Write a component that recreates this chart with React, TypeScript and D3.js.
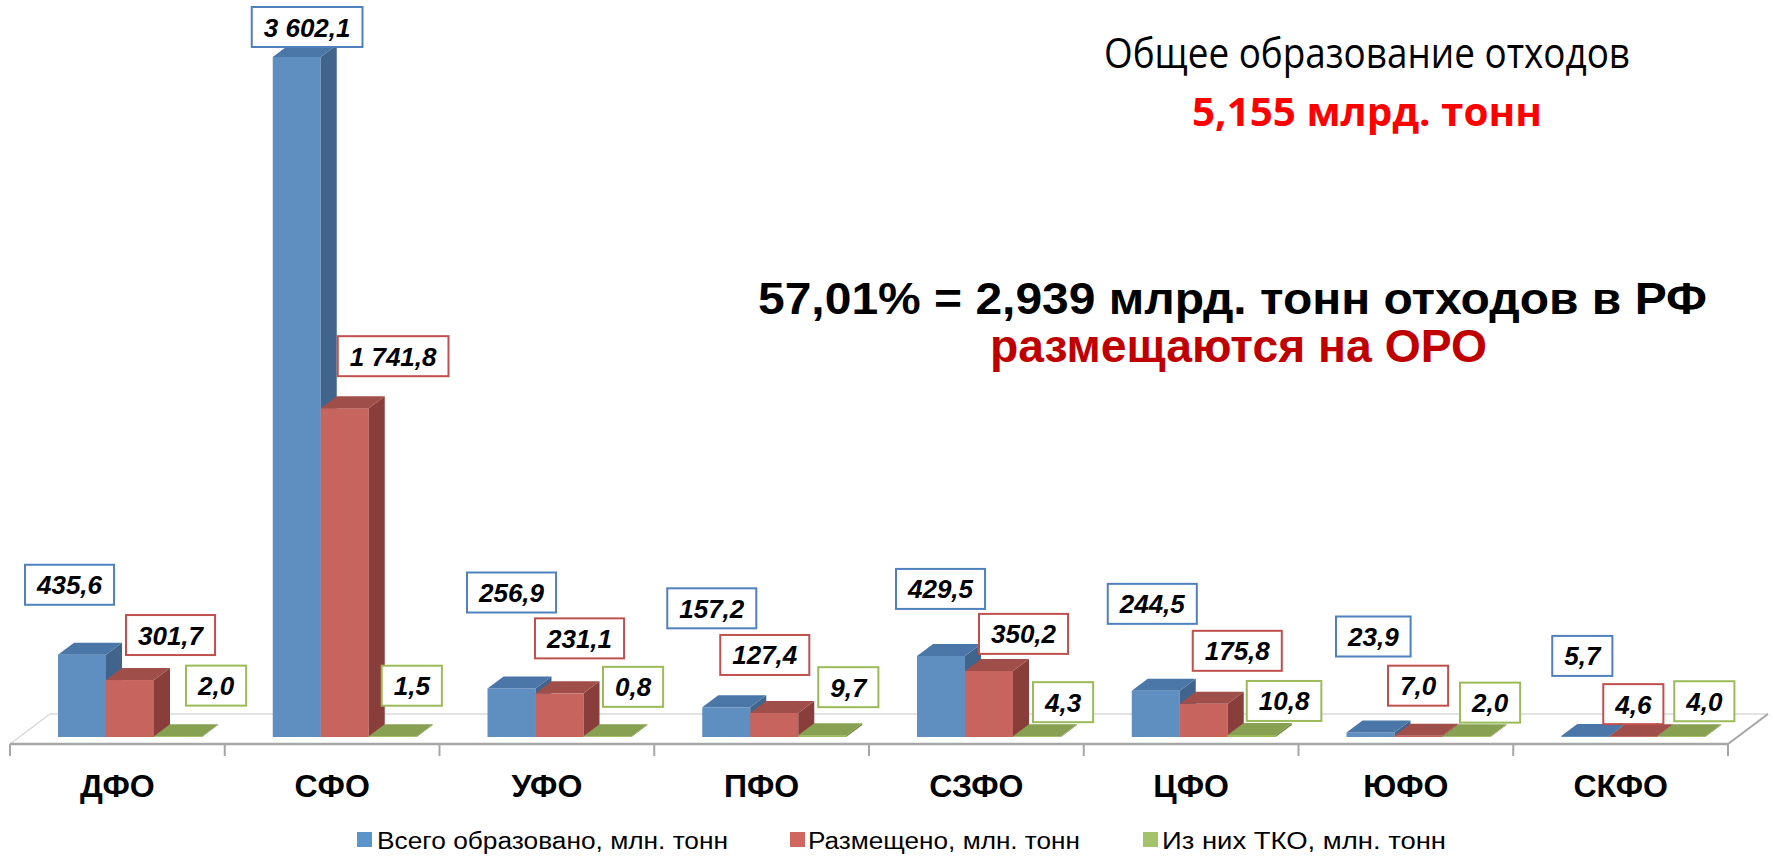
import React, { useEffect } from "react";
import * as d3 from "d3";

// ---------- data ----------
const categories = ["ДФО", "СФО", "УФО", "ПФО", "СЗФО", "ЦФО", "ЮФО", "СКФО"];
const totalGenerated = [435.6, 3602.1, 256.9, 157.2, 429.5, 244.5, 23.9, 5.7];
const placedOnSites = [301.7, 1741.8, 231.1, 127.4, 350.2, 175.8, 7.0, 4.6];
const municipalWaste = [2.0, 1.5, 0.8, 9.7, 4.3, 10.8, 2.0, 4.0];
const seriesNames = [
  "Всего образовано, млн. тонн",
  "Размещено, млн. тонн",
  "Из них ТКО, млн. тонн",
];

// label placement (offsets: x from category start, y from bar top to box bottom)
const blueLabelDx = [15, 27, 27.5, 13, 27, 24, 37.5, 39];
const blueLabelDy = [-50, -10, -76, -79, -47, -67, -76, -60];
const redLabelDx = [116, 113, 95.5, 66, 110, 109, 89.5, 90];
const redLabelDy = [-25, -32, -35, -38, -17, -33, -30, -12];
const greenLabelDx = [176, 157, 163.5, 164, 164, 163, 161.5, 161];
const greenLabelDy = [-31, -31, -30, -28, -14, -14, -14, -15];

const W = 1773;
const H = 856;
const FONT = "'Liberation Sans', Arial, sans-serif";
const TITLE_FONT = "'Open Sans', 'Noto Sans', sans-serif";

const seriesStyle = [
  { front: "#5F8EC0", side: "#41648C", top: "#4A76A8", border: "#4F81BD", legend: "#5B93CB" },
  { front: "#C8645E", side: "#8A3E3C", top: "#A04E4A", border: "#C0504D", legend: "#CF6660" },
  { front: "#9BBB59", side: "#6E8A3A", top: "#87A052", border: "#9BBB59", legend: "#A4C26A" },
];

const ruLocale = d3.formatLocale({
  decimal: ",",
  thousands: " ",
  grouping: [3],
  currency: ["", ""],
});
const fmt = ruLocale.format(",.1f");

const LABEL_FONT = 26;
function labelWidth(s: string) {
  let w = 0;
  for (const ch of s) {
    if (ch === "," || ch === " " || ch === ".") w += 0.278;
    else w += 0.556;
  }
  return w * LABEL_FONT + 24;
}

export default function App() {
  useEffect(() => {
    document.body.style.margin = "0";
    document.body.style.overflow = "hidden";
  }, []);

  const x = d3.scaleBand<string>().domain(categories).range([10, 1728]).padding(0);
  const xs = d3.scaleBand<number>().domain([0, 1, 2]).range([48, 192]).padding(0);
  const y = d3.scaleLinear().domain([0, 3602.1]).range([737, 57]);
  const barW = xs.bandwidth();
  const ddx = 16;
  const ddy = -12;
  const base = y(0);

  const series = [totalGenerated, placedOnSites, municipalWaste];
  const labelDx = [blueLabelDx, redLabelDx, greenLabelDx];
  const labelDy = [blueLabelDy, redLabelDy, greenLabelDy];

  // floor
  const fx0 = x.range()[0];
  const fx1 = x.range()[1];
  const fy = 744;
  const fdx = 40;
  const fdy = -30;

  const bars: React.ReactNode[] = [];
  const labels: React.ReactNode[] = [];
  categories.forEach((c, ci) => {
    series.forEach((vals, si) => {
      const v = vals[ci];
      const x0 = (x(c) as number) + (xs(si) as number);
      const yt = Math.min(y(v), base - 0.8);
      const st = seriesStyle[si];
      bars.push(
        <g key={`b-${ci}-${si}`}>
          <rect x={x0} y={yt} width={barW} height={base - yt} fill={st.front} />
          <polygon
            points={`${x0 + barW},${yt} ${x0 + barW + ddx},${yt + ddy} ${x0 + barW + ddx},${base + ddy} ${x0 + barW},${base}`}
            fill={st.side}
          />
          <polygon
            points={`${x0},${yt} ${x0 + ddx},${yt + ddy} ${x0 + barW + ddx},${yt + ddy} ${x0 + barW},${yt}`}
            fill={st.top}
          />
        </g>
      );
      const txt = fmt(v);
      const bw = labelWidth(txt);
      const bx = (x(c) as number) + labelDx[si][ci];
      const bBottom = y(v) + labelDy[si][ci];
      const bh = 40;
      labels.push(
        <g key={`l-${ci}-${si}`}>
          <rect
            x={bx}
            y={bBottom - bh}
            width={bw}
            height={bh}
            fill="#fff"
            stroke={st.border}
            strokeWidth={2}
          />
          <text
            x={bx + bw / 2}
            y={bBottom - bh / 2 + 9.5}
            textAnchor="middle"
            fontFamily={FONT}
            fontSize={LABEL_FONT}
            fontWeight="bold"
            fontStyle="italic"
            fill="#000"
          >
            {txt}
          </text>
        </g>
      );
    });
  });

  const boundaries = [...categories.map((c) => x(c) as number), fx1];

  const legendPos = [
    { sx: 357, tx: 377, tl: 351 },
    { sx: 790, tx: 808, tl: 272 },
    { sx: 1143, tx: 1162, tl: 284 },
  ];

  return (
    <div style={{ position: "absolute", left: 0, top: 0 }}>
      <svg width={W} height={H} style={{ display: "block", background: "#fff" }}>
        {/* floor */}
        <polygon
          points={`${fx0},${fy} ${fx1},${fy} ${fx1 + fdx},${fy + fdy} ${fx0 + fdx},${fy + fdy}`}
          fill="#fff"
        />
        <line x1={fx0 + fdx} y1={fy + fdy} x2={fx1 + fdx} y2={fy + fdy} stroke="#d9d9d9" strokeWidth={1.5} />
        <line x1={fx0} y1={fy} x2={fx0 + fdx} y2={fy + fdy} stroke="#d9d9d9" strokeWidth={1.5} />
        <line x1={fx1} y1={fy} x2={fx1 + fdx} y2={fy + fdy} stroke="#a6a6a6" strokeWidth={2} />
        <line x1={fx0} y1={fy} x2={fx1} y2={fy} stroke="#a6a6a6" strokeWidth={2.5} />
        {boundaries.map((b, i) => (
          <line key={`t-${i}`} x1={b} y1={fy} x2={b} y2={fy + 12} stroke="#a6a6a6" strokeWidth={2} />
        ))}

        {bars}
        {labels}

        {/* category labels */}
        {categories.map((c) => (
          <text
            key={`c-${c}`}
            x={(x(c) as number) + x.bandwidth() / 2}
            y={797}
            textAnchor="middle"
            fontFamily={FONT}
            fontWeight="bold"
            fontSize={32}
            fill="#000"
          >
            {c}
          </text>
        ))}

        {/* legend */}
        {seriesNames.map((n, i) => (
          <g key={`lg-${i}`}>
            <rect x={legendPos[i].sx} y={832} width={15} height={15} fill={seriesStyle[i].legend} />
            <text
              x={legendPos[i].tx}
              y={849}
              fontFamily={FONT}
              fontSize={23}
              fill="#000"
              textLength={legendPos[i].tl}
              lengthAdjust="spacingAndGlyphs"
            >
              {n}
            </text>
          </g>
        ))}

        {/* annotations */}
        <text
          x={1367}
          y={68}
          textAnchor="middle"
          fontFamily={TITLE_FONT}
          fontSize={42}
          fill="#000"
          textLength={526}
          lengthAdjust="spacingAndGlyphs"
        >
          Общее образование отходов
        </text>
        <text
          x={1367}
          y={126}
          textAnchor="middle"
          fontFamily={TITLE_FONT}
          fontSize={40}
          fontWeight="bold"
          fill="#FF0000"
          textLength={350}
          lengthAdjust="spacingAndGlyphs"
        >
          5,155 млрд. тонн
        </text>
        <text
          x={758}
          y={314}
          fontFamily={FONT}
          fontSize={45}
          fontWeight="bold"
          fill="#000"
          textLength={949}
          lengthAdjust="spacingAndGlyphs"
        >
          57,01% = 2,939 млрд. тонн отходов в РФ
        </text>
        <text
          x={990}
          y={362}
          fontFamily={FONT}
          fontSize={46}
          fontWeight="bold"
          fill="#C00000"
          textLength={497}
          lengthAdjust="spacingAndGlyphs"
        >
          размещаются на ОРО
        </text>
      </svg>
    </div>
  );
}
